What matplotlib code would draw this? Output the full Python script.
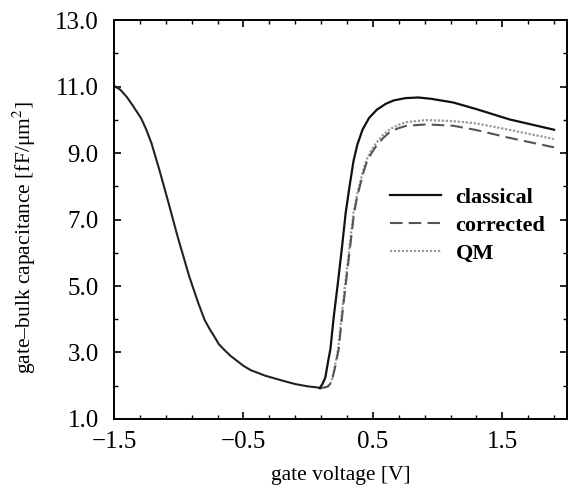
import numpy as np
import matplotlib
matplotlib.use("Agg")
import matplotlib.pyplot as plt
from matplotlib.ticker import MultipleLocator, FixedLocator

plt.rcParams['font.family'] = ['Liberation Serif', 'DejaVu Serif']
plt.rcParams['mathtext.fontset'] = 'stix'

# shared accumulation/depletion branch
v_left = [-1.5, -1.45, -1.40, -1.35, -1.29, -1.25, -1.21, -1.15, -1.085, -1.008,
          -0.918, -0.85, -0.80, -0.76, -0.72, -0.69, -0.648, -0.60, -0.55, -0.50,
          -0.444, -0.33, -0.213, -0.10, 0.0, 0.07, 0.09]
c_left = [11.02, 10.9, 10.68, 10.4, 10.04, 9.7, 9.29, 8.5, 7.59, 6.48,
          5.28, 4.5, 3.98, 3.7, 3.45, 3.25, 3.08, 2.9, 2.75, 2.6,
          2.47, 2.3, 2.17, 2.05, 1.98, 1.95, 1.93]

# inversion branch
v_cl = [0.11, 0.133, 0.155, 0.172, 0.198, 0.23, 0.262, 0.29, 0.32, 0.35, 0.38,
        0.42, 0.47, 0.53, 0.60, 0.66, 0.75, 0.85, 0.95, 1.12, 1.30, 1.556, 1.90]
c_cl = [2.05, 2.25, 2.75, 3.1, 4.08, 5.1, 6.18, 7.2, 8.0, 8.75, 9.25,
        9.7, 10.05, 10.3, 10.48, 10.58, 10.65, 10.67, 10.63, 10.52, 10.32, 10.01, 9.7]

v_co = [0.10, 0.15, 0.18, 0.205, 0.236, 0.262, 0.295, 0.325, 0.355, 0.38, 0.402,
        0.43, 0.454, 0.49, 0.531, 0.58, 0.633, 0.70, 0.762, 0.915, 1.12, 1.30, 1.55, 1.90]
c_co = [1.93, 1.97, 2.1, 2.5, 3.1, 4.08, 5.2, 6.2, 7.2, 7.7, 8.04,
        8.45, 8.74, 9.0, 9.24, 9.45, 9.64, 9.75, 9.82, 9.86, 9.82, 9.69, 9.46, 9.17]

v_qm = [0.10, 0.15, 0.18, 0.205, 0.233, 0.258, 0.29, 0.32, 0.35, 0.378, 0.40,
        0.43, 0.454, 0.49, 0.531, 0.58, 0.633, 0.70, 0.762, 0.915, 1.12, 1.30, 1.55, 1.90]
c_qm = [1.93, 1.96, 2.12, 2.55, 3.15, 4.1, 5.2, 6.2, 7.2, 7.75, 8.1,
        8.55, 8.82, 9.1, 9.33, 9.55, 9.72, 9.85, 9.93, 9.99, 9.96, 9.89, 9.70, 9.42]

fig = plt.figure(figsize=(5.76, 4.88), dpi=100)
ax = fig.add_axes([0.1979, 0.1414, 0.7865, 0.8176])

ax.plot(v_left, c_left, color='#222222', lw=1.5)
ax.plot(v_left[-1:] + v_qm, c_left[-1:] + c_qm, color='#999999', lw=1.6,
        linestyle=(0, (1, 0.8)), label='QM')
ax.plot(v_left[-1:] + v_co, c_left[-1:] + c_co, color='#555555', lw=1.5,
        linestyle=(0, (6, 3)), label='corrected')
ax.plot(v_left[-1:] + v_cl, c_left[-1:] + c_cl, color='#111111', lw=1.6,
        label='classical')

ax.set_xlim(-1.5, 2.0)
ax.set_ylim(1.0, 13.0)
ax.xaxis.set_major_locator(FixedLocator([-1.5, -0.5, 0.5, 1.5]))
ax.xaxis.set_minor_locator(FixedLocator(np.arange(-1.5, 2.01, 0.2)))
ax.yaxis.set_minor_locator(MultipleLocator(1.0))
ax.set_xticklabels(['\u22121.5', '\u22120.5', '0.5', '1.5'])
ax.set_yticks([1, 3, 5, 7, 9, 11, 13])
ax.set_yticklabels(['1.0', '3.0', '5.0', '7.0', '9.0', '11.0', '13.0'])
ax.tick_params(which='both', direction='in', top=True, right=True, labelsize=18)
ax.tick_params(axis='x', pad=9)
ax.tick_params(axis='y', pad=11)
ax.tick_params(which='major', length=5, width=1.2)
ax.tick_params(which='minor', length=3, width=1.0)
for s in ax.spines.values():
    s.set_linewidth(1.4)

ax.set_xlabel('gate voltage [V]', fontsize=15.5, labelpad=9)
ax.set_ylabel('gate\u2013bulk capacitance [fF/\u03bcm$^2$]', fontsize=15.5)
ax.yaxis.set_label_coords(-0.168, 0.455)

h, l = ax.get_legend_handles_labels()
leg = ax.legend(h[::-1], l[::-1], loc='upper left', bbox_to_anchor=(0.565, 0.63),
                frameon=False, handlelength=2.3, handletextpad=0.65,
                labelspacing=0.32, prop={'size': 16, 'weight': 'bold'})

fig.savefig('out.png', dpi=100)
